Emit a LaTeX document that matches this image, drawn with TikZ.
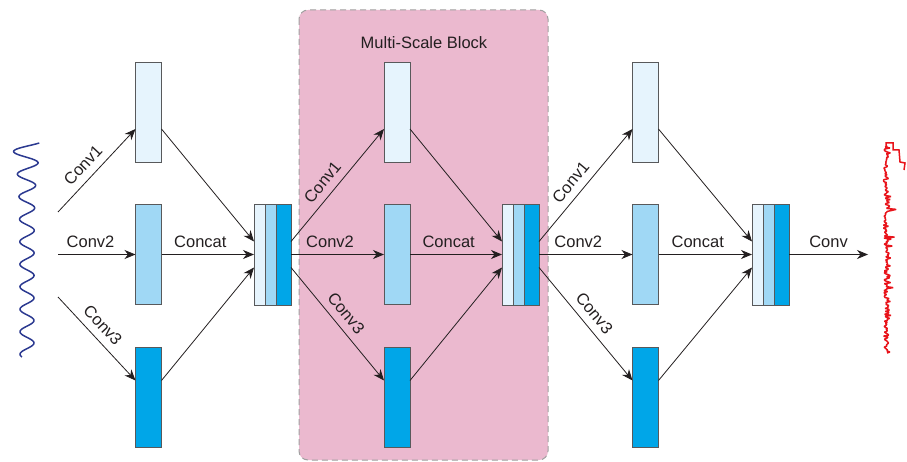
\documentclass[tikz,border=0pt]{standalone}
\usepackage{fontspec}
\setmainfont{Liberation Sans}
\usetikzlibrary{
    arrows.meta,
    calc,
    positioning
}

\definecolor{mapLight}{HTML}{E6F4FD}
\definecolor{mapMid}{HTML}{A0D8F5}
\definecolor{mapDark}{HTML}{00A6E8}
\definecolor{boxGray}{HTML}{58595B}
\definecolor{lineBlack}{HTML}{231F20}
\definecolor{blockPink}{HTML}{EBB9CF}
\definecolor{dashGray}{HTML}{A0A0A0}
\definecolor{waveBlue}{HTML}{2B3990}
\definecolor{traceRed}{HTML}{E8141B}

\tikzset{
    fmap/.style={draw=boxGray, line width=0.9pt, inner sep=0pt, outer sep=0pt,
        minimum width=26pt, minimum height=100pt},
    strip/.style={draw=boxGray, line width=0.9pt, inner sep=0pt, outer sep=0pt,
        minimum height=101pt},
    flow/.style={draw=lineBlack, line width=0.8pt,
        -{Stealth[length=11pt, width=9pt, inset=3.5pt]}},
    lab/.style={font=\fontsize{16.5}{19}\selectfont, text=lineBlack},
    block/.style={fill=blockPink, draw=dashGray, line width=1pt,
        dash pattern=on 6pt off 4pt, rounded corners=9pt}
}

\begin{document}
\begin{tikzpicture}[x=1pt, y=-1pt]
    \useasboundingbox (0,0) rectangle (907,462);

    % multi-scale block
    \draw[block] (299,10) rectangle (548,460);
    \node[lab] (title) at (424,43) {Multi-Scale Block};

    % input signal
    \draw[waveBlue, line width=1.5pt]
        plot[domain=143:357, samples=320, smooth]
        ({27 + (7 + 9*exp(-(\x-143)/25))*sin((\x-143)/22.5*360 + 130)}, \x);

    % output signal
    \pgfmathsetseed{23}
    \draw[traceRed, line width=1.5pt, line join=bevel]
        plot[domain=146:353, samples=210]
        ({883 + 4*rnd + 13*rnd*rnd*rnd}, \x);
    \draw[traceRed, line width=1.5pt]
        (886,146) -- (886,143) -- (893,143) -- (893,150) -- (899,150)
        -- (900,162) -- (905,163) -- (904,170);

    % stage 1
    \coordinate (s1) at (58,212);
    \coordinate (s2) at (58,254.5);
    \coordinate (s3) at (58,297);
    \node[fmap, fill=mapLight] (f1a) at (148.5,112) {};
    \node[fmap, fill=mapMid] (f1b) at (148.5,254.5) {};
    \node[fmap, fill=mapDark] (f1c) at (148.5,397.5) {};
    \node[strip, minimum width=11pt, fill=mapLight] (c1a) at (259.5,254.5) {};
    \node[strip, minimum width=11pt, fill=mapMid, right=0pt of c1a] (c1b) {};
    \node[strip, minimum width=15pt, fill=mapDark, right=0pt of c1b] (c1c) {};

    % stage 2
    \node[fmap, fill=mapLight] (f2a) at (397,112) {};
    \node[fmap, fill=mapMid] (f2b) at (397,254.5) {};
    \node[fmap, fill=mapDark] (f2c) at (397,397.5) {};
    \node[strip, minimum width=11pt, fill=mapLight] (c2a) at (507.5,254.5) {};
    \node[strip, minimum width=11pt, fill=mapMid, right=0pt of c2a] (c2b) {};
    \node[strip, minimum width=15pt, fill=mapDark, right=0pt of c2b] (c2c) {};

    % stage 3
    \node[fmap, fill=mapLight] (f3a) at (645.5,112) {};
    \node[fmap, fill=mapMid] (f3b) at (645.5,254.5) {};
    \node[fmap, fill=mapDark] (f3c) at (645.5,397.5) {};
    \node[strip, minimum width=11pt, fill=mapLight] (c3a) at (757.5,254.5) {};
    \node[strip, minimum width=11pt, fill=mapMid, right=0pt of c3a] (c3b) {};
    \node[strip, minimum width=15pt, fill=mapDark, right=0pt of c3b] (c3c) {};
    \coordinate (out) at (868,254.5);

    \draw
    (s1) edge[flow] node[lab, sloped, above=4pt, pos=.45] {Conv1} ($(f1a.west)+(0,17)$)
    (s2) edge[flow] node[lab, above=3pt, pos=.42] {Conv2} (f1b)
    (s3) edge[flow] node[lab, sloped, above=4pt, pos=.45] {Conv3} ($(f1c.west)+(0,-17)$)
    ($(f1a.east)+(0,17)$) edge[flow] ($(c1a.west)+(0,-13)$)
    (f1b) edge[flow] node[lab, above=3pt, pos=.42] {Concat} (c1a)
    ($(f1c.east)+(0,-17)$) edge[flow] ($(c1a.west)+(0,13)$);

    \draw
    ($(c1c.east)+(0,-13)$) edge[flow] node[lab, sloped, above=4pt, pos=.45] {Conv1} ($(f2a.west)+(0,17)$)
    (c1c) edge[flow] node[lab, above=3pt, pos=.42] {Conv2} (f2b)
    ($(c1c.east)+(0,13)$) edge[flow] node[lab, sloped, above=4pt, pos=.48] {Conv3} ($(f2c.west)+(0,-17)$)
    ($(f2a.east)+(0,17)$) edge[flow] ($(c2a.west)+(0,-13)$)
    (f2b) edge[flow] node[lab, above=3pt, pos=.42] {Concat} (c2a)
    ($(f2c.east)+(0,-17)$) edge[flow] ($(c2a.west)+(0,13)$);

    \draw
    ($(c2c.east)+(0,-13)$) edge[flow] node[lab, sloped, above=4pt, pos=.45] {Conv1} ($(f3a.west)+(0,17)$)
    (c2c) edge[flow] node[lab, above=3pt, pos=.42] {Conv2} (f3b)
    ($(c2c.east)+(0,13)$) edge[flow] node[lab, sloped, above=4pt, pos=.48] {Conv3} ($(f3c.west)+(0,-17)$)
    ($(f3a.east)+(0,17)$) edge[flow] ($(c3a.west)+(0,-13)$)
    (f3b) edge[flow] node[lab, above=3pt, pos=.42] {Concat} (c3a)
    ($(f3c.east)+(0,-17)$) edge[flow] ($(c3a.west)+(0,13)$)
    (c3c) edge[flow] node[lab, above=3pt] {Conv} (out);
\end{tikzpicture}
\end{document}
